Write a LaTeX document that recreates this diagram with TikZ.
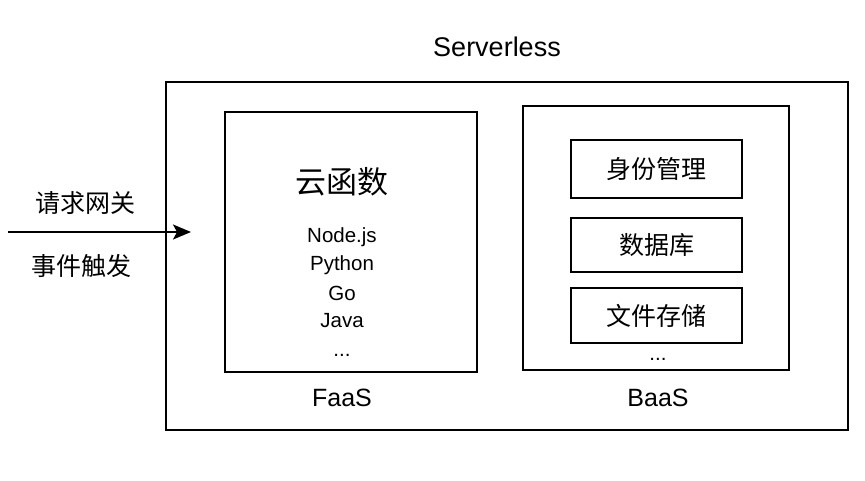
\documentclass[tikz,border=0pt]{standalone}
\usepackage{fontspec}
\setmainfont{Liberation Sans}
\newfontfamily\cjk{Noto Sans CJK SC}
\usetikzlibrary{arrows.meta}
\begin{document}
\begin{tikzpicture}[x=1pt,y=-1pt,
  box/.style={draw=black,line width=1.8pt,inner sep=0pt},
  lbl/.style={inner sep=0pt,font=\fontsize{25}{28}\selectfont},
  cjklbl/.style={inner sep=0pt,font=\cjk\fontsize{25}{28}\selectfont},
  lang/.style={inner sep=0pt,font=\fontsize{20.5}{24}\selectfont}]
\useasboundingbox[fill=white] (0,0) rectangle (865,481);
% outer box
\draw[box] (166,82) rectangle (848,430);
\node[inner sep=0pt,font=\fontsize{27}{30}\selectfont] (sl) at (497,47) {Serverless};
% FaaS box
\draw[box] (225,112) rectangle (477,372);
\node[inner sep=0pt,font=\cjk\fontsize{31}{34}\selectfont] (yhs) at (342,182) {云函数};
\node[lang] (node) at (342,237) {Node.js};
\node[lang] (py) at (342,265) {Python};
\node[lang] (go) at (342,293) {Go};
\node[lang] (java) at (342,321) {Java};
\node[lang] (fd) at (342,355) {...};
\node[lbl] (faas) at (342,398) {FaaS};
% BaaS box
\draw[box] (523,106) rectangle (789,370);
\draw[box] (571,140) rectangle (742,198);
\node[cjklbl] (sfgl) at (656.5,169) {身份管理};
\draw[box] (571,218) rectangle (742,272);
\node[cjklbl] (sjk) at (656.5,245) {数据库};
\draw[box] (571,288) rectangle (742,343);
\node[cjklbl] (wjcc) at (656.5,315.5) {文件存储};
\node[lang] (bd) at (658,359) {...};
\node[lbl] (baas) at (658,398) {BaaS};
% arrow
\coordinate (src) at (8,232);
\coordinate (dst) at (191,232);
\draw[line width=1.8pt,-{Stealth[length=18pt,width=15pt,inset=4pt]}] (src) -- (dst);
\node[cjklbl] (qq) at (85,203) {请求网关};
\node[cjklbl] (sj) at (81,266) {事件触发};
\end{tikzpicture}
\end{document}
